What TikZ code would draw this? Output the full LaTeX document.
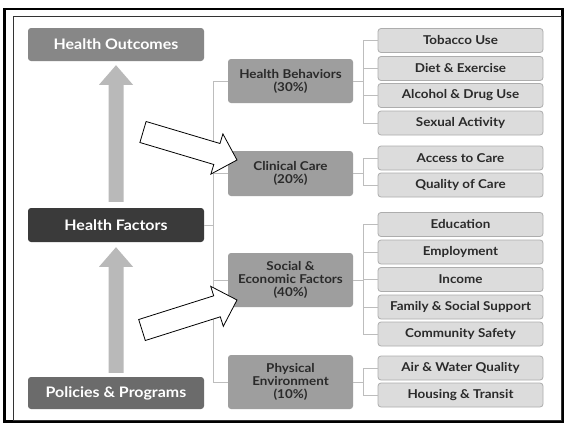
\documentclass[tikz,border=0pt]{standalone}
\usepackage{fontspec}
\setmainfont{Lato}[FakeStretch=1.1]
\usetikzlibrary{calc}

\definecolor{outgray}{HTML}{878787}
\definecolor{factgray}{HTML}{3A3A3A}
\definecolor{polgray}{HTML}{6B6B6B}
\definecolor{midgray}{HTML}{9E9E9E}
\definecolor{leafgray}{HTML}{DCDCDC}
\definecolor{leafedge}{HTML}{ADADAD}
\definecolor{textdark}{HTML}{2A2A2A}
\definecolor{linkgray}{HTML}{BDBDBD}
\definecolor{arrowgray}{HTML}{B9B9B9}

\tikzset{
  mainbox/.style={rounded corners=3pt, minimum width=176pt, inner sep=0pt,
    text=white, font=\bfseries\fontsize{14.5}{16}\selectfont},
  midbox/.style={fill=midgray, rounded corners=3pt, minimum width=125pt,
    inner sep=0pt, align=center, text=textdark,
    font=\bfseries\fontsize{12.2}{13}\selectfont},
  leafbox/.style={fill=leafgray, draw=leafedge, line width=0.8pt,
    rounded corners=3pt, minimum width=165pt, minimum height=24pt,
    inner sep=0pt, text=textdark, font=\bfseries\fontsize{12.2}{13}\selectfont},
  link/.style={draw=linkgray, line width=1pt},
  uparrow/.style={fill=arrowgray},
  hollow/.style={draw=black, fill=white, line width=0.8pt, line join=miter},
}

\begin{document}
\begin{tikzpicture}[x=1pt, y=-1pt]
\useasboundingbox (0,0) rectangle (565,423);
\fill[white] (0,0) rectangle (565,423);

% frames
\draw[black, line width=2.5pt] (4.5,9) rectangle (562.5,421.5);
\draw[black!80, line width=0.9pt] (13,16) rectangle (561,420);

% left column
\node[mainbox, fill=outgray, minimum height=33pt] (ho) at (116,44.5) {Health Outcomes};
\node[mainbox, fill=factgray, minimum height=34pt] (hf) at (116,225) {Health Factors};
\node[mainbox, fill=polgray, minimum height=32pt] (pp) at (116,393) {Policies \& Programs};

% broad upward arrows
\fill[uparrow] ($(hf.north)+(-7.5,-6)$) -- ++(0,-117) -- ++(-9.5,0)
  -- ($(ho.south)+(0,4)$) -- ($(hf.north)+(17,-123)$) -- ++(-9.5,0)
  -- ($(hf.north)+(7.5,-6)$) -- cycle;
\fill[uparrow] ($(pp.north)+(-7.5,-4)$) -- ++(0,-106) -- ++(-9.5,0)
  -- ($(hf.south)+(0,5)$) -- ($(pp.north)+(17,-110)$) -- ++(-9.5,0)
  -- ($(pp.north)+(7.5,-4)$) -- cycle;

% factor groups
\node[midbox, minimum height=44pt] (hb) at (290.5,81) {Health Behaviors\\(30\%)};
\node[midbox, minimum height=45pt] (cc) at (290.5,173.5) {Clinical Care\\(20\%)};
\node[midbox, minimum height=54pt] (se) at (290.5,280) {Social \&\\Economic Factors\\(40\%)};
\node[midbox, minimum height=54pt] (pe) at (290.5,382) {Physical\\Environment\\(10\%)};

% individual factors
\node[leafbox] (l1) at (460.5,40.5) {Tobacco Use};
\node[leafbox] (l2) at (460.5,68.5) {Diet \& Exercise};
\node[leafbox] (l3) at (460.5,95.5) {Alcohol \& Drug Use};
\node[leafbox] (l4) at (460.5,123) {Sexual Activity};
\node[leafbox] (l5) at (460.5,158) {Access to Care};
\node[leafbox] (l6) at (460.5,185) {Quality of Care};
\node[leafbox] (l7) at (460.5,224.5) {Education};
\node[leafbox] (l8) at (460.5,252) {Employment};
\node[leafbox] (l9) at (460.5,279.5) {Income};
\node[leafbox] (l10) at (460.5,307) {Family \& Social Support};
\node[leafbox] (l11) at (460.5,334) {Community Safety};
\node[leafbox] (l12) at (460.5,368) {Air \& Water Quality};
\node[leafbox] (l13) at (460.5,395) {Housing \& Transit};

% tree connectors
\coordinate (trunk) at (213,0);
\coordinate (br) at (363,0);
\draw[link] (hb.west -| trunk) -- (pe.west -| trunk);
\draw[link] (hf.east) -- (hf.east -| trunk);
\foreach \n in {hb,cc,se,pe} \draw[link] (\n.west -| trunk) -- (\n.west);

\foreach \p/\a/\b/\kids in {hb/l1/l4/{l1,l2,l3,l4}, cc/l5/l6/{l5,l6},
    se/l7/l11/{l7,l8,l9,l10,l11}, pe/l12/l13/{l12,l13}} {
  \draw[link] (\p.east) -- (\p.east -| br);
  \draw[link] (\a.west -| br) -- (\b.west -| br);
  \foreach \k in \kids \draw[link] (\k.west -| br) -- (\k.west);
}

% hollow pointer arrows
\draw[hollow] (146.1,121.5) -- (220.0,143.5) -- (222.9,133.9) -- (237,160)
  -- (210.9,174.1) -- (213.8,164.5) -- (139.9,142.5) -- cycle;
\draw[hollow] (138.7,319.5) -- (213.7,295.8) -- (210.7,286.3) -- (237,300)
  -- (223.3,326.3) -- (220.3,316.8) -- (145.3,340.5) -- cycle;
\end{tikzpicture}
\end{document}
